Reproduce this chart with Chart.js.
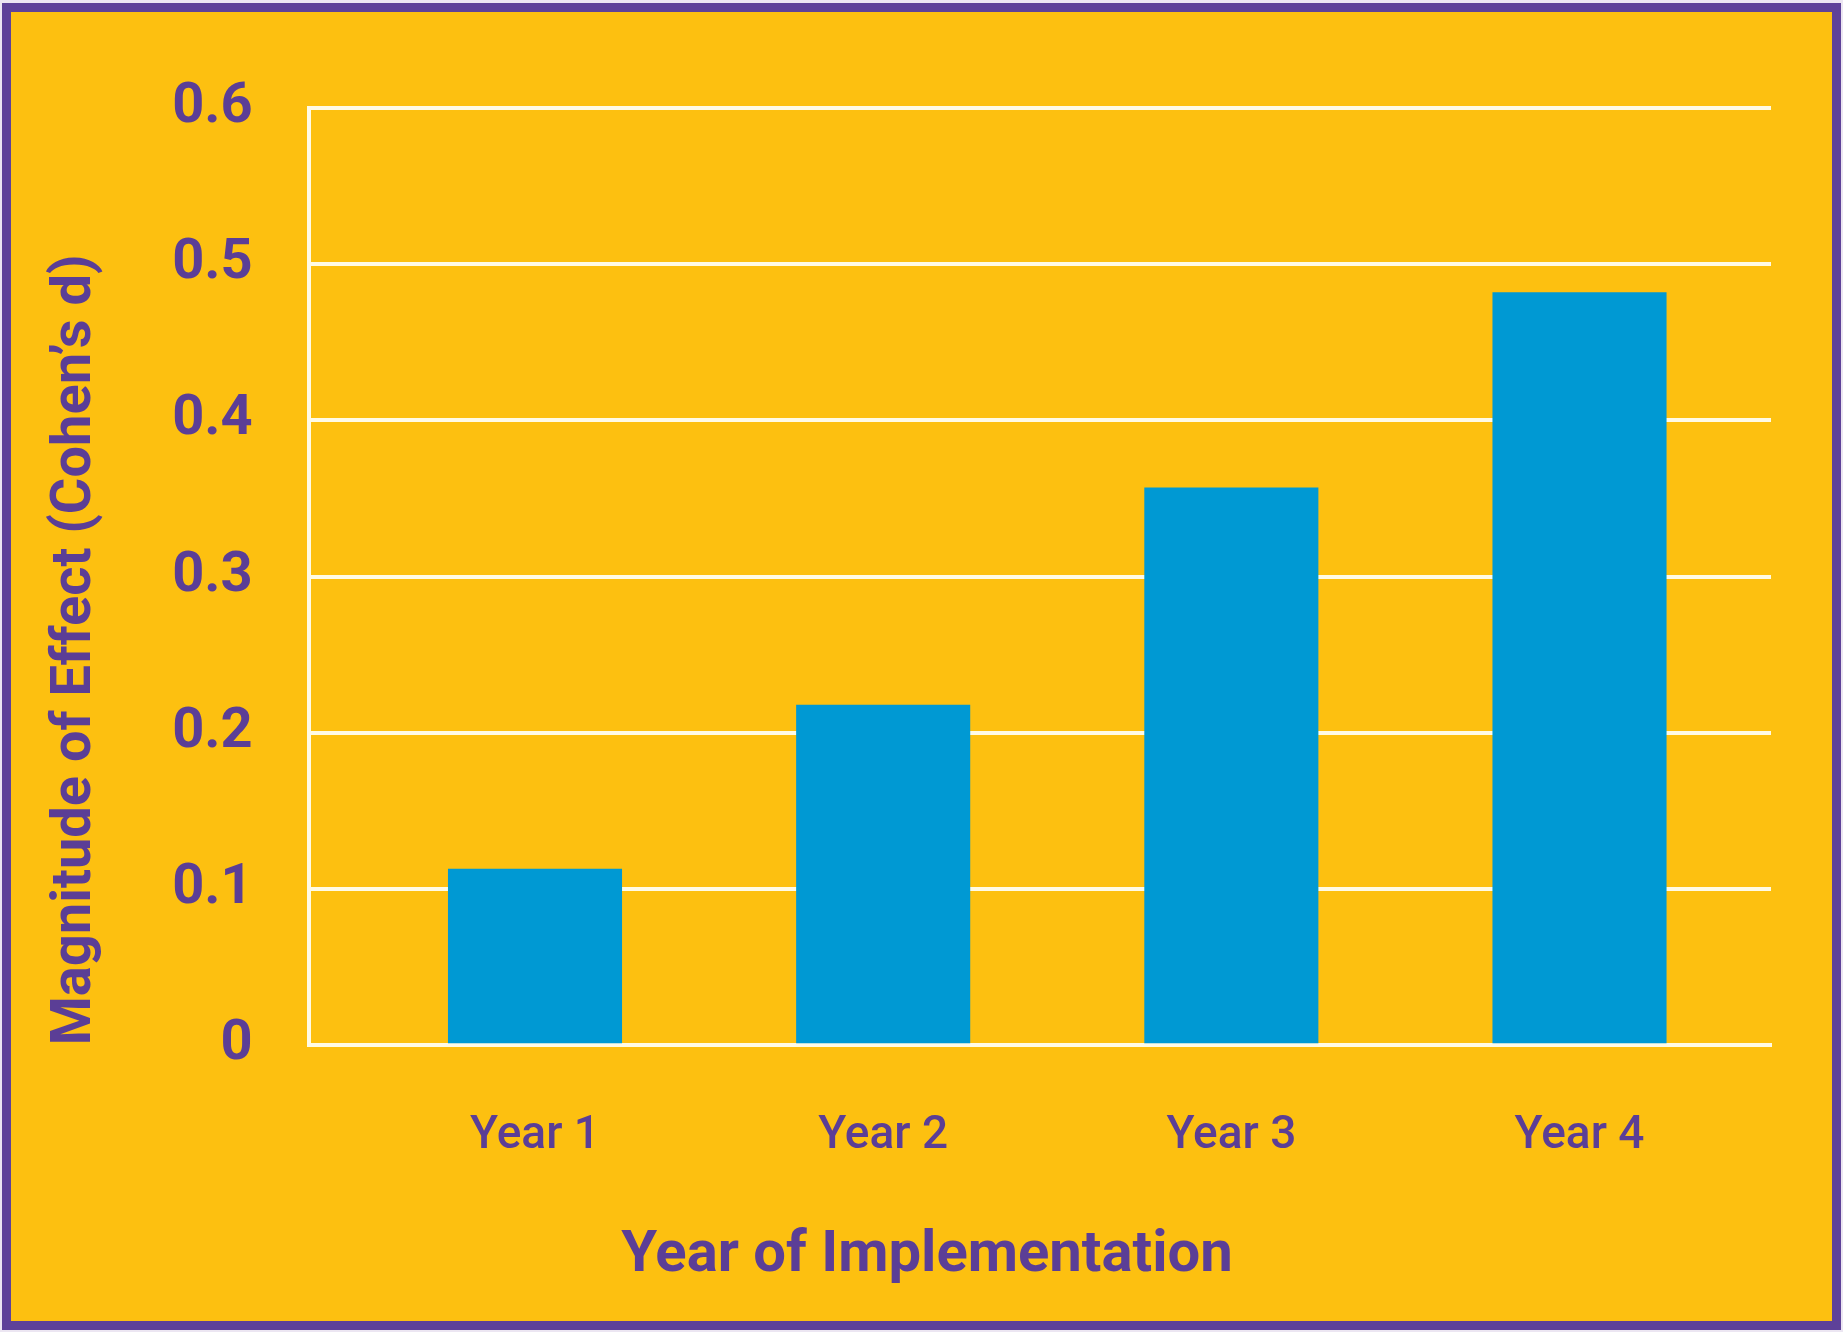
<!DOCTYPE html>
<html>
<head>
<meta charset="utf-8">
<script src="https://cdn.jsdelivr.net/npm/chart.js@4.4.1/dist/chart.umd.min.js"></script>
<style>
  html,body{margin:0;padding:0;background:#ece6f2;}
  #frame{
    position:absolute;left:2px;top:3px;width:1839px;height:1327px;
    box-sizing:border-box;border:9px solid #5e4199;background:#fdc010;
  }
  #box{position:relative;width:100%;height:100%;}
</style>
</head>
<body>
<div id="frame"><div id="box"><canvas id="chart"></canvas></div></div>
<script>
/* データ */
const categories = ["Year 1","Year 2","Year 3","Year 4"];
const effectSize = [0.113, 0.218, 0.357, 0.482];
const yTickLabels = ["0","0.1","0.2","0.3","0.4","0.5","0.6"];

const purple = "#5b3e96";
const gridWhite = "#fffbe6";

const ctx = document.getElementById("chart");

// x は年の番号 (1..4) で置く
const points = categories.map((c,i)=>({x:i+1, y:effectSize[i]}));

new Chart(ctx,{
  type:"bar",
  data:{
    datasets:[{
      label:"Magnitude of Effect",
      data:points,
      backgroundColor:"#0099d3",
      borderWidth:0,
      categoryPercentage:0.5,
      barPercentage:1
    }]
  },
  options:{
    responsive:true,
    maintainAspectRatio:false,
    animation:false,
    layout:{padding:{left:31,right:20,top:96,bottom:10}},
    plugins:{
      legend:{display:false},
      tooltip:{enabled:false},
      title:{
        display:true,
        position:"bottom",
        text:"Year of Implementation",
        color:purple,
        font:{family:"Roboto",size:58,weight:"bold"},
        padding:{top:1,bottom:20}
      }
    },
    scales:{
      x:{
        type:"linear",
        min:0.35,
        max:4.55,
        offset:false,
        grid:{display:false},
        border:{display:true,color:gridWhite,width:4},
        afterBuildTicks:(s)=>{
          s.ticks = categories.map((c,i)=>({value:i+1}));
        },
        ticks:{
          color:purple,
          padding:56,
          font:{family:"Roboto",size:46,weight:"500"},
          callback:(v)=>categories[v-1]
        }
      },
      y:{
        min:0,
        max:0.6,
        grid:{color:gridWhite,lineWidth:4,drawTicks:false},
        border:{display:true,color:gridWhite,width:4},
        ticks:{
          stepSize:0.1,
          color:purple,
          padding:56,
          font:{family:"Roboto",size:56,weight:"bold"},
          callback:(v)=>yTickLabels[Math.round(v*10)]
        },
        title:{
          display:true,
          text:"Magnitude of Effect (Cohen’s d)",
          align:"start",
          color:purple,
          font:{family:"Roboto",size:56,weight:"bold"},
          padding:{top:0,bottom:7}
        }
      },
      // 右の余白用（表示なし）
      y2:{
        position:"right",
        display:true,
        grid:{display:false},
        border:{display:false},
        ticks:{display:false},
        afterFit:(s)=>{ s.width = 41; }
      }
    }
  }
});
</script>
</body>
</html>
